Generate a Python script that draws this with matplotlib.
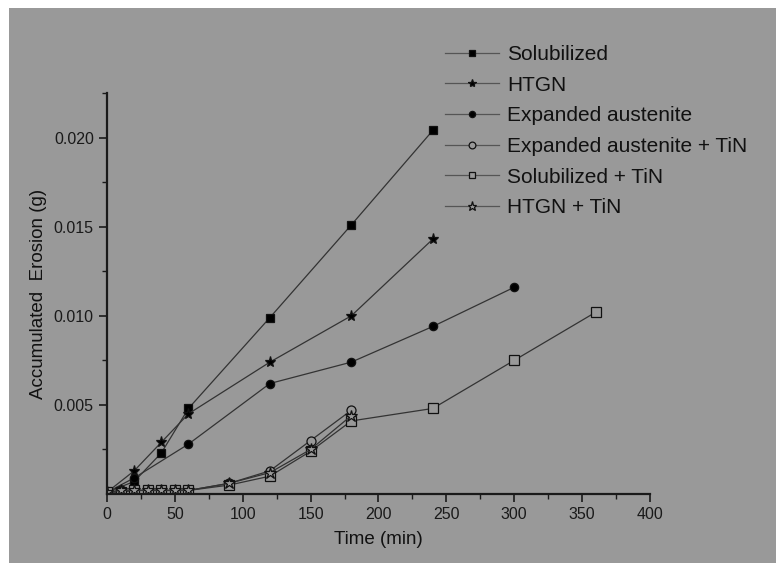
import matplotlib
matplotlib.use("Agg")
import matplotlib.pyplot as plt
from matplotlib.ticker import MultipleLocator

plt.rcParams['font.family'] = ['Liberation Sans', 'DejaVu Sans']

BG = '#999999'
LINE = '#333333'

# ---- data ----
t_sol = [0, 20, 40, 60, 120, 180, 240]
v_sol = [0.0001, 0.0007, 0.0023, 0.0048, 0.0099, 0.0151, 0.0204]

t_htgn = [0, 20, 40, 60, 120, 180, 240]
v_htgn = [0.0001, 0.0013, 0.0029, 0.0045, 0.0074, 0.0100, 0.0143]

t_ea = [0, 20, 60, 120, 180, 240, 300]
v_ea = [0.0001, 0.0009, 0.0028, 0.0062, 0.0074, 0.0094, 0.0116]

t_ea_tin = [0, 10, 20, 30, 40, 50, 60, 90, 120, 150, 180]
v_ea_tin = [0.0001, 0.0002, 0.0002, 0.0002, 0.0002, 0.0002, 0.0002, 0.0006, 0.0013, 0.0030, 0.0047]

t_sol_tin = [0, 10, 20, 30, 40, 50, 60, 90, 120, 150, 180, 240, 300, 360]
v_sol_tin = [0.0001, 0.0001, 0.0002, 0.0002, 0.0002, 0.0002, 0.0002, 0.0005, 0.0010, 0.0024, 0.0041, 0.0048, 0.0075, 0.0102]

t_htgn_tin = [0, 10, 20, 30, 40, 50, 60, 90, 120, 150, 180]
v_htgn_tin = [0.0001, 0.0002, 0.0002, 0.0002, 0.0002, 0.0002, 0.0002, 0.0006, 0.0012, 0.0025, 0.0044]

labels = ["Solubilized", "HTGN", "Expanded austenite",
          "Expanded austenite + TiN", "Solubilized + TiN", "HTGN + TiN"]

series = [
    (t_sol, v_sol, 's', 'k', 5.5),
    (t_htgn, v_htgn, '*', 'k', 8),
    (t_ea, v_ea, 'o', 'k', 6),
    (t_ea_tin, v_ea_tin, 'o', BG, 6.5),
    (t_sol_tin, v_sol_tin, 's', BG, 6.5),
    (t_htgn_tin, v_htgn_tin, '*', BG, 9),
]

fig = plt.figure(figsize=(7.76, 5.69), dpi=100)
fig.patch.set_facecolor('white')
# gray panel behind everything
fig.patches.append(plt.Rectangle((9/776, 1-563/569), 1, (563-8)/569,
                                 transform=fig.transFigure, facecolor=BG,
                                 edgecolor='none', zorder=-10))

ax = fig.add_axes([107/776, 1-494/569, (650-107)/776, (494-93)/569])
ax.set_facecolor(BG)
ax.patch.set_alpha(0)

handles = []
for (t, v, m, fc, ms), lab in zip(series, labels):
    h, = ax.plot(t, v, color=LINE, lw=0.9, marker=m, markersize=ms,
                 markerfacecolor=fc, markeredgecolor='#111111',
                 markeredgewidth=0.9, label=lab)
    handles.append(h)

ax.set_xlim(0, 400)
ax.set_ylim(0, 0.0225)
ax.set_xticks(range(0, 401, 50))
ax.xaxis.set_minor_locator(MultipleLocator(25))
ax.set_yticks([0.005, 0.010, 0.015, 0.020])
ax.set_yticklabels(['0.005', '0.010', '0.015', '0.020'])
ax.set_yticks([0.0025, 0.0075, 0.0125, 0.0175, 0.0225], minor=True)

for s in ['top', 'right']:
    ax.spines[s].set_visible(False)
for s in ['left', 'bottom']:
    ax.spines[s].set_linewidth(1.6)
    ax.spines[s].set_color('#1a1a1a')

ax.tick_params(which='major', direction='out', length=6, width=1.2,
               labelsize=11.5, colors='#1a1a1a')
ax.tick_params(which='minor', direction='out', length=3.5, width=1.0,
               colors='#1a1a1a')

ax.set_xlabel('Time (min)', fontsize=13.5, color='#111111', labelpad=6)
ax.set_ylabel('Accumulated  Erosion (g)', fontsize=13.5, color='#111111', labelpad=5)

leg = fig.legend(handles=handles, loc='upper left',
                 bbox_to_anchor=(445/776, 1-45/569),
                 frameon=False, fontsize=15, borderpad=0, borderaxespad=0,
                 handlelength=2.6, handletextpad=0.4, labelspacing=0.56,
                 markerscale=0.75)
for txt in leg.get_texts():
    txt.set_color('#111111')
for lh in leg.get_lines():
    lh.set_color('#555555')

fig.savefig('out.png', dpi=100, facecolor=fig.get_facecolor())
